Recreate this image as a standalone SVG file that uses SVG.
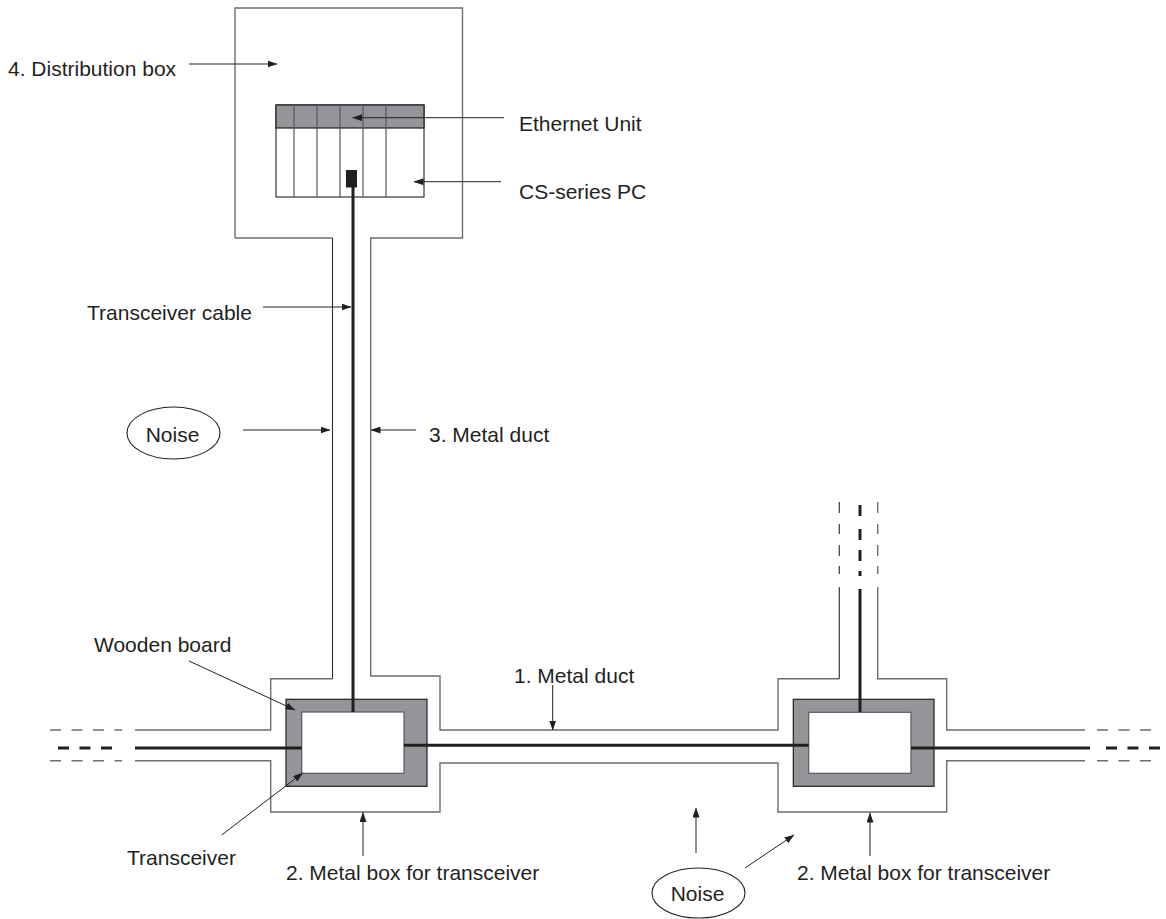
<svg xmlns="http://www.w3.org/2000/svg" width="1166" height="919" viewBox="0 0 1166 919">
<style>
text{font-family:"Liberation Sans",Arial,sans-serif;font-size:21px;fill:#231f20}
.duct{fill:none;stroke:#6d6e70;stroke-width:1.4}
.dk{fill:none;stroke:#2b2a2c;stroke-width:1.1}
.cable{fill:none;stroke:#231f20;stroke-width:3}
.lead{fill:none;stroke:#231f20;stroke-width:1;marker-end:url(#a)}
.box{fill:#939598;stroke:#231f20;stroke-width:1.2}
.win{fill:#fff;stroke:#58595b;stroke-width:1.2}
.div{stroke:#58595b;stroke-width:1.2}
.dash{stroke-dasharray:11 10.5}
.ell{fill:#fff;stroke:#231f20;stroke-width:1.1}
</style>
<defs><marker id="a" markerUnits="userSpaceOnUse" markerWidth="10" markerHeight="7" refX="9.500" refY="3.500" orient="auto"><path d="M0 0L10 3.500L0 7Z" fill="#231f20"/></marker></defs>
<g id="distribution-box"><path class="duct" d="M235 238V8H462.500V238H370.700V330M235 238H332.500"/></g>
<g id="pc">
<rect x="276" y="105" width="148" height="92" fill="#fff" stroke="#231f20" stroke-width="1.1"/>
<rect x="276" y="105" width="148" height="23" class="box"/>
<path class="div" d="M294 105V197M317 105V197M340 105V197M363 105V197M386 105V197"/>
<rect x="346" y="170" width="11" height="17.500" fill="#231f20"/>
</g>
<g id="vertical-duct"><path class="dk" d="M332.500 238V678.700"/><path class="duct" d="M332.500 678.700H270.700V730H135M370.700 330V676H440V730H778V678.700H839.300"/><path class="dk" d="M839.300 678.700V587"/><path class="duct" d="M877.700 587V678.700H946.700V730H1085M135 760.700H270.700V812H440V763H778V812H946.700V760.700H1085"/></g>
<g id="transceiver-left"><rect x="286" y="699.300" width="141" height="87" class="box"/><rect x="301.700" y="712" width="102.300" height="61.300" class="win"/></g>
<g id="transceiver-right"><rect x="793.300" y="699.300" width="140.700" height="87" class="box"/><rect x="808.700" y="712.300" width="102.300" height="61" class="win"/></g>
<g id="connectors">
<path class="cable" d="M353 187V712M135 748H301.700M404 745.300H808.700M860 589V712M911 748H1090"/>
<path class="cable dash" d="M58 748H122M1106 748H1166"/>
<path class="duct dash" d="M50 730H122M50 760.700H122M1097 730H1160M1097 760.700H1160"/>
<path class="dk" d="M839.300 502V513M839.300 524V534M839.300 545V556M839.300 566V574"/>
<path class="duct" d="M877.700 502V513M877.700 524V534M877.700 545V556M877.700 566V574"/>
<path class="cable" d="M860 505V516M860 529V540M860 550V561M860 571V576"/>
<path class="lead" d="M189 64H277"/>
<path class="lead" d="M504 117.700H352.700"/>
<path class="lead" d="M501 181.700H414"/>
<path class="lead" d="M263 307H351"/>
<path class="lead" d="M243 430H330"/>
<path class="lead" d="M416 430H371"/>
<path class="lead" d="M189 661L295 710"/>
<path class="lead" d="M221.700 835L302.700 773"/>
<path class="lead" d="M363 856V812.500"/>
<path class="lead" d="M552.700 685V730"/>
<path class="lead" d="M696 853V808"/>
<path class="lead" d="M745 868L794 835"/>
<path class="lead" d="M870 856V813"/>
</g>
<g id="noise-left"><ellipse cx="173.500" cy="433" rx="46.500" ry="26" class="ell"/><text x="172.500" y="442" text-anchor="middle">Noise</text></g>
<g id="noise-bottom"><ellipse cx="698.500" cy="893" rx="46.500" ry="25" class="ell"/><text x="697.500" y="901" text-anchor="middle">Noise</text></g>
<g id="labels">
<text x="8" y="76">4. Distribution box</text>
<text x="519" y="131">Ethernet Unit</text>
<text x="519" y="199">CS-series PC</text>
<text x="87" y="320">Transceiver cable</text>
<text x="429" y="442">3. Metal duct</text>
<text x="94" y="652">Wooden board</text>
<text x="514" y="682.500">1. Metal duct</text>
<text x="127" y="865">Transceiver</text>
<text x="286" y="880">2. Metal box for transceiver</text>
<text x="797" y="880">2. Metal box for transceiver</text>
</g>
</svg>
